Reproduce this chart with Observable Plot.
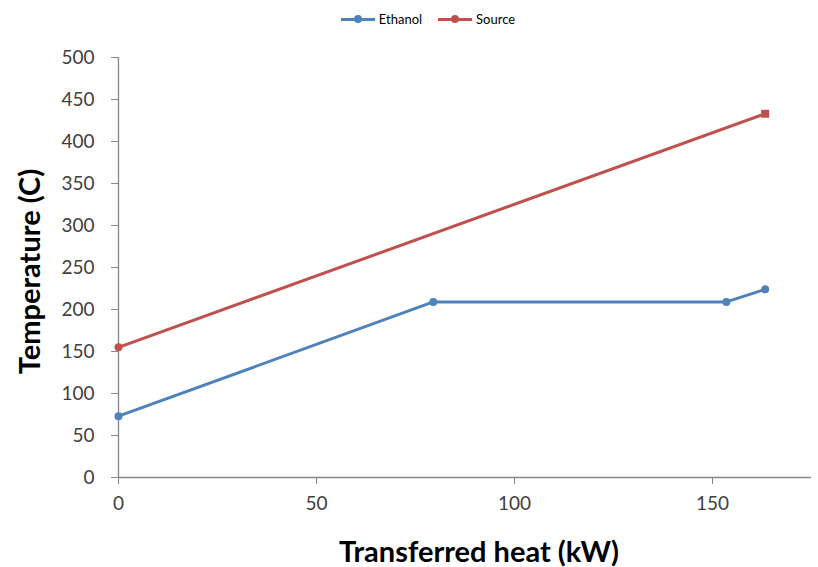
<!DOCTYPE html>
<html><head><meta charset="utf-8">
<script src="https://cdn.jsdelivr.net/npm/d3@7"></script>
<script src="https://cdn.jsdelivr.net/npm/@observablehq/plot@0.6"></script>
<style>
body{margin:0;background:#fff;font-family:Lato,"Open Sans",sans-serif;}
#legend{height:38px;display:flex;justify-content:center;align-items:center;font-size:13px;color:#000;gap:16px;padding-left:38px;box-sizing:border-box;}
.item{display:flex;align-items:center;gap:4px;}
.sw{position:relative;width:34px;height:3px;}
.sw i{position:absolute;left:13px;top:-2.5px;width:8px;height:8px;border-radius:50%;}
</style></head><body>
<div id="legend"></div>
<div id="chart"></div>
<script>
const seriesNames = ["Ethanol", "Source"];
const colors = ["#4F81BD", "#C0504D"];
const ethanolX = [0, 79.5, 153.5, 163.3];
const ethanolT = [73, 209, 209, 224];
const sourceX = [0, 163.3];
const sourceT = [155, 433];
const xTicks = [0, 50, 100, 150];
const yTicks = [0, 50, 100, 150, 200, 250, 300, 350, 400, 450, 500];
const xTitle = "Transferred heat (kW)";
const yTitle = "Temperature (C)";

const ethanol = ethanolX.map((x, i) => ({x, t: ethanolT[i], s: seriesNames[0]}));
const source = sourceX.map((x, i) => ({x, t: sourceT[i], s: seriesNames[1]}));

const leg = document.getElementById("legend");
seriesNames.forEach((n, i) => {
  const d = document.createElement("div"); d.className = "item";
  d.innerHTML = `<span class="sw" style="background:${colors[i]}"><i style="background:${colors[i]}"></i></span><span>${n}</span>`;
  leg.appendChild(d);
});

const axisColor = "#868686";
const chart = Plot.plot({
  width: 818, height: 529,
  marginTop: 19, marginBottom: 90, marginLeft: 118, marginRight: 7,
  style: {fontFamily: "Lato, 'Open Sans', sans-serif", fontSize: "19px", color: "#404040", background: "#fff"},
  x: {domain: [0, 175]},
  y: {domain: [0, 500]},
  marks: [
    Plot.ruleX([0], {stroke: axisColor, strokeWidth: 1.3}),
    Plot.ruleY([0], {stroke: axisColor, strokeWidth: 1.3}),
    Plot.axisX({ticks: xTicks, tickSize: 7, tickPadding: 12, stroke: axisColor, label: null, fill: "#404040"}),
    Plot.axisY({ticks: yTicks, tickSize: 7, tickPadding: 17, stroke: axisColor, label: null, fill: "#404040"}),
    Plot.line(ethanol, {x: "x", y: "t", stroke: colors[0], strokeWidth: 3}),
    Plot.line(source, {x: "x", y: "t", stroke: colors[1], strokeWidth: 3}),
    Plot.dot(ethanol, {x: "x", y: "t", fill: colors[0], r: 4}),
    Plot.dot(source.slice(0, 1), {x: "x", y: "t", fill: colors[1], r: 4}),
    Plot.dot(source.slice(1), {x: "x", y: "t", fill: colors[1], r: 4.5, symbol: "square"}),
    Plot.text([xTitle], {frameAnchor: "bottom", dy: 84, dx: 14, fontSize: 29, fontWeight: "bold", fill: "#000", text: d => d}),
    Plot.text([yTitle], {frameAnchor: "left", textAnchor: "middle", lineAnchor: "middle", dx: -88, dy: 4, rotate: -90, fontSize: 29, fontWeight: "bold", fill: "#000", text: d => d})
  ]
});
document.getElementById("chart").appendChild(chart);
</script>
</body></html>
